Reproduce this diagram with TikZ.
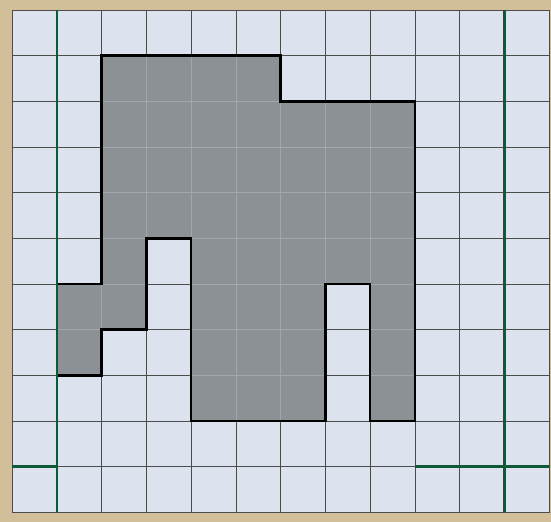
\documentclass[tikz,border=0pt]{standalone}
\usepackage{tikz}

\definecolor{tilewhite}{HTML}{DCE3EE}
\definecolor{tilegray}{HTML}{8C9196}
\definecolor{boardtan}{HTML}{D2BE98}
\definecolor{tapegreen}{HTML}{0E5A36}

\begin{document}
\begin{tikzpicture}[x=1cm,y=1.02cm]
  % Estilos para las piezas
  \tikzset{
    white_tile/.style={fill=tilewhite,draw=black!70,line width=0.5pt},
    gray_tile/.style={fill=tilegray,draw=tilegray!80!white,line width=0.4pt},
    region_edge/.style={draw=black,line width=1.6pt,line join=miter},
    green_tape/.style={draw=tapegreen,line width=1.5pt}
  }

  % Fondo
  \fill[boardtan] (-0.27,0.22) rectangle (12.04,-11.21);
  \useasboundingbox (-0.27,0.22) rectangle (12.04,-11.21);

  % Cuadricula blanca (12 columnas, 11 filas)
  \foreach \col in {0,...,11}
    \foreach \row in {0,...,10}
      \draw[white_tile] (\col,-\row) rectangle ++(1,-1);

  % Region gris: columna/fila superior/fila inferior
  \foreach \col/\first/\last in {1/6/7,2/1/6,3/1/4,4/1/8,5/1/8,6/2/8,7/2/5,8/2/8}
    \foreach \row in {\first,...,\last}
      \draw[gray_tile] (\col,-\row) rectangle ++(1,-1);

  % Contorno de la region
  \draw[region_edge] (2,-1) -- (6,-1) -- (6,-2) -- (9,-2) -- (9,-9) -- (8,-9)
    -- (8,-6) -- (7,-6) -- (7,-9) -- (4,-9) -- (4,-5) -- (3,-5) -- (3,-7)
    -- (2,-7) -- (2,-8) -- (1,-8) -- (1,-6) -- (2,-6) -- cycle;

  % Cinta verde
  \draw[green_tape] (1,0) -- (1,-11);
  \draw[green_tape,line width=2pt] (11,0) -- (11,-11);
  \draw[green_tape] (0,-10) -- (1,-10);
  \draw[green_tape] (9,-10) -- (12,-10);
\end{tikzpicture}
\end{document}
